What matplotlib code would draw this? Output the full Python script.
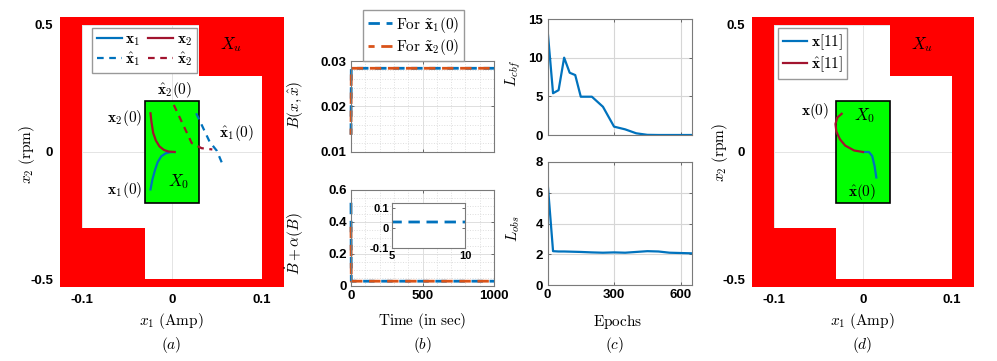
import numpy as np
import matplotlib.pyplot as plt
from matplotlib.path import Path
from matplotlib.patches import PathPatch, Rectangle
from matplotlib.ticker import MultipleLocator, AutoMinorLocator

plt.rcParams['mathtext.fontset'] = 'cm'
plt.rcParams['font.family'] = ['Liberation Sans', 'DejaVu Sans']

W, H = 997, 361
blue = '#0072BD'
dred = '#A2142F'
orange = '#D95319'

# safe region (white) and initial set X0
safe_x = [-0.1, 0.03, 0.03, 0.1, 0.1, -0.03, -0.03, -0.1]
safe_y = [0.5, 0.5, 0.3, 0.3, -0.5, -0.5, -0.3, -0.3]
x0_box = (-0.03, -0.2, 0.06, 0.4)

# (a) trajectories
a_x1 = [(-0.024, -0.147), (-0.022, -0.11), (-0.019, -0.071), (-0.016, -0.04),
        (-0.012, -0.017), (-0.007, -0.005), (-0.002, -0.001), (0.003, 0.0)]
a_x2 = [(-0.024, 0.152), (-0.023, 0.12), (-0.021, 0.075), (-0.018, 0.045),
        (-0.014, 0.022), (-0.009, 0.008), (-0.004, 0.002), (0.003, 0.0)]
a_xh1 = [(0.027, 0.152), (0.034, 0.1), (0.042, 0.04), (0.05, 0.005), (0.056, -0.045)]
a_xh2 = [(0.002, 0.185), (0.012, 0.11), (0.022, 0.035), (0.033, 0.015), (0.045, 0.01)]

# (b) barrier values
b_t = [0, 2, 1000]
b_B1 = [0.0138, 0.0284, 0.0284]
b_B2 = [0.0138, 0.0284, 0.0284]
b_dB1 = [0.52, 0.03, 0.03]
b_dB2 = [0.37, 0.03, 0.03]

# (c) training losses
c_ep = [0, 25, 50, 75, 100, 125, 150, 200, 250, 300, 350, 400, 450, 500, 550, 600, 650]
c_cbf = [13.7, 5.4, 5.8, 10.0, 8.05, 7.75, 4.95, 4.95, 3.65, 1.08, 0.73, 0.22, 0.02, 0, 0, 0, 0]
c_obs = [6.75, 2.2, 2.18, 2.18, 2.17, 2.16, 2.15, 2.12, 2.1, 2.12, 2.1, 2.15, 2.2, 2.18, 2.1, 2.08, 2.06]

# (d) trajectories
d_x = [(0.0, 0.0), (0.0067, 0.0), (0.0104, -0.016), (0.013, -0.055), (0.015, -0.1)]
d_xh = [(-0.024, 0.15), (-0.029, 0.135), (-0.031, 0.11), (-0.030, 0.08),
        (-0.026, 0.05), (-0.02, 0.025), (-0.01, 0.006), (0.0, 0.0)]

fig = plt.figure(figsize=(W / 100, H / 100), dpi=100)


def fx(p):
    return p / W


def fy(p):
    return 1 - p / H


def add_ax(l, r, t, b):
    return fig.add_axes([fx(l), fy(b), (r - l) / W, (b - t) / H])


def xy(pts):
    return [p[0] for p in pts], [p[1] for p in pts]


TFS = 9.5
tickfont = dict(fontsize=TFS, fontweight='bold')


def box_style(ax, fs=TFS):
    for s in ax.spines.values():
        s.set_color('#7a7a7a')
        s.set_linewidth(0.8)
    ax.tick_params(direction='in', length=2.5, width=0.6, color='#555555',
                   top=True, right=True, pad=3)
    for tl in ax.get_xticklabels() + ax.get_yticklabels():
        tl.set_fontsize(fs)
        tl.set_fontweight('bold')


def state_panel(ax):
    ax.set_xlim(-0.125, 0.125)
    ax.set_ylim(-0.53, 0.53)
    ax.set_axisbelow(True)
    ax.grid(True, color='#e4e4e4', lw=0.7)
    outer = [(-0.3, -1), (0.3, -1), (0.3, 1), (-0.3, 1), (-0.3, -1)]
    inner = list(zip(safe_x, safe_y)) + [(safe_x[0], safe_y[0])]
    codes = ([Path.MOVETO] + [Path.LINETO] * 3 + [Path.CLOSEPOLY] +
             [Path.MOVETO] + [Path.LINETO] * (len(inner) - 2) + [Path.CLOSEPOLY])
    ax.add_patch(PathPatch(Path(outer + inner, codes), facecolor='#ff0000',
                           edgecolor='none', zorder=1))
    ax.add_patch(Rectangle(x0_box[:2], x0_box[2], x0_box[3], facecolor='#00ff00',
                           edgecolor='black', lw=1.2, zorder=2))
    ax.set_xticks([-0.1, 0, 0.1])
    ax.set_xticklabels(['-0.1', '0', '0.1'], **tickfont)
    ax.set_yticks([-0.5, 0, 0.5])
    ax.set_yticklabels(['-0.5', '0', '0.5'], **tickfont)
    ax.tick_params(length=0, pad=5)
    for s in ax.spines.values():
        s.set_visible(False)
    ax.set_xlabel(r'$x_1\ \mathrm{(Amp)}$', fontsize=11)
    ax.set_ylabel(r'$x_2\ \mathrm{(rpm)}$', fontsize=11)
    ax.text(0.066, 0.42, r'$X_u$', fontsize=12, ha='center', va='center', zorder=4)


leg_kw = dict(fancybox=False, edgecolor='#999999', framealpha=1, borderpad=0.3,
              labelspacing=0.15, handlelength=1.6, handletextpad=0.25,
              columnspacing=0.5, fontsize=11, borderaxespad=0)

# ---------------- (a)
ax = add_ax(60, 284, 17, 287)
state_panel(ax)
l1, = ax.plot(*xy(a_x1), color=blue, lw=1.6, zorder=3, label=r'$\mathbf{x}_1$')
l2, = ax.plot(*xy(a_x2), color=dred, lw=1.6, zorder=3, label=r'$\mathbf{x}_2$')
l3, = ax.plot(*xy(a_xh1), color=blue, lw=1.6, ls=(0, (3, 2.5)), zorder=3,
              label=r'$\hat{\mathbf{x}}_1$')
l4, = ax.plot(*xy(a_xh2), color=dred, lw=1.6, ls=(0, (3, 2.5)), zorder=3,
              label=r'$\hat{\mathbf{x}}_2$')
ax.legend(handles=[l1, l3, l2, l4], ncol=2, loc='upper left',
          bbox_to_anchor=(0.145, 0.96), **leg_kw).set_zorder(5)
ax.text(0.003, 0.245, r'$\hat{\mathbf{x}}_2(0)$', fontsize=11, ha='center', va='center', zorder=4)
ax.text(-0.053, 0.135, r'$\mathbf{x_2}(0)$', fontsize=11, ha='center', va='center', zorder=4)
ax.text(0.072, 0.075, r'$\hat{\mathbf{x}}_1(0)$', fontsize=11, ha='center', va='center', zorder=4)
ax.text(-0.053, -0.15, r'$\mathbf{x_1}(0)$', fontsize=11, ha='center', va='center', zorder=4)
ax.text(0.007, -0.117, r'$X_0$', fontsize=12, ha='center', va='center', zorder=4)
ax.xaxis.set_label_coords(fx(171), fy(321), transform=fig.transFigure)
ax.xaxis.label.set_va('center')
ax.yaxis.set_label_coords(fx(27), fy(154), transform=fig.transFigure)
ax.yaxis.label.set_va('center')

# ---------------- (b)
dash_b = (0, (4.1, 2.4))
dash_b2 = (1.9, (4.1, 2.4))
ax = add_ax(351, 494, 61, 152)
ax.plot(b_t, b_B1, color=blue, lw=2.0, ls=dash_b, clip_on=False,
        label=r'$\mathrm{For}\ \tilde{\mathbf{x}}_1(0)$')
ax.plot(b_t, b_B2, color=orange, lw=2.0, ls=dash_b2, clip_on=False,
        label=r'$\mathrm{For}\ \tilde{\mathbf{x}}_2(0)$')
ax.set_xlim(0, 1000)
ax.set_ylim(0.01, 0.03)
ax.set_xticks([0, 500, 1000])
ax.set_xticklabels([])
ax.set_yticks([0.01, 0.02, 0.03])
ax.set_yticklabels(['0.01', '0.02', '0.03'])
ax.xaxis.set_minor_locator(AutoMinorLocator(5))
ax.yaxis.set_minor_locator(AutoMinorLocator(5))
ax.grid(True, which='major', color='#dedede', lw=0.7)
ax.grid(True, which='minor', color='#dedede', lw=0.7, ls=':')
ax.tick_params(which='minor', length=0)
box_style(ax)
ax.set_ylabel(r'$B(x,\hat{x})$', fontsize=11)
ax.yaxis.set_label_coords(fx(295), fy(105), transform=fig.transFigure)
ax.yaxis.label.set_va('center')
h, lb = ax.get_legend_handles_labels()
fig.legend(h, lb, loc='upper left', bbox_to_anchor=(fx(363), fy(10)),
           **leg_kw)

ax = add_ax(351, 494, 190, 286)
ax.plot(b_t, b_dB1, color=blue, lw=2.0, ls=dash_b, clip_on=False)
ax.plot(b_t, b_dB2, color=orange, lw=2.0, ls=dash_b, clip_on=False)
ax.set_xlim(0, 1000)
ax.set_ylim(0, 0.6)
ax.set_xticks([0, 500, 1000])
ax.set_yticks([0, 0.2, 0.4, 0.6])
ax.set_yticklabels(['0', '0.2', '0.4', '0.6'])
ax.xaxis.set_minor_locator(AutoMinorLocator(5))
ax.yaxis.set_minor_locator(AutoMinorLocator(4))
ax.grid(True, which='major', color='#dedede', lw=0.7)
ax.grid(True, which='minor', color='#dedede', lw=0.7, ls=':')
ax.tick_params(which='minor', length=0)
box_style(ax)
ax.set_xlabel(r'$\mathrm{Time\ (in\ sec)}$', fontsize=11)
ax.xaxis.set_label_coords(fx(422), fy(321), transform=fig.transFigure)
ax.xaxis.label.set_va('center')
ax.set_ylabel(r'$\dot{B}+\alpha(B)$', fontsize=11)
ax.yaxis.set_label_coords(fx(295), fy(244), transform=fig.transFigure)
ax.yaxis.label.set_va('center')

ins = add_ax(392, 465, 203, 248)
ins.plot(b_t, b_dB1, color=blue, lw=2.0, ls=dash_b)
ins.set_xlim(5, 10)
ins.set_ylim(-0.1, 0.125)
ins.set_xticks([5, 10])
ins.set_yticks([-0.1, 0, 0.1])
ins.set_yticklabels(['-0.1', '0', '0.1'])
box_style(ins, fs=8)
ins.tick_params(pad=2)

# ---------------- (c)
ax = add_ax(547.5, 691.7, 19, 135)
ax.plot(c_ep, c_cbf, color=blue, lw=1.6)
ax.set_xlim(0, 650)
ax.set_ylim(0, 15)
ax.set_xticks([0, 300, 600])
ax.set_xticklabels([])
ax.set_yticks([0, 5, 10, 15])
ax.grid(True, color='#d6d6d6', lw=0.8)
box_style(ax)
ax.set_ylabel(r'$L_{cbf}$', fontsize=11)
ax.yaxis.set_label_coords(fx(513), fy(73), transform=fig.transFigure)
ax.yaxis.label.set_va('center')

ax = add_ax(547.5, 691.7, 162, 285)
ax.plot(c_ep, c_obs, color=blue, lw=1.6)
ax.set_xlim(0, 650)
ax.set_ylim(0, 8)
ax.set_xticks([0, 300, 600])
ax.set_yticks([0, 2, 4, 6, 8])
ax.grid(True, color='#d6d6d6', lw=0.8)
box_style(ax)
ax.set_xlabel(r'$\mathrm{Epochs}$', fontsize=11)
ax.xaxis.set_label_coords(fx(618), fy(322), transform=fig.transFigure)
ax.xaxis.label.set_va('center')
ax.set_ylabel(r'$L_{obs}$', fontsize=11)
ax.yaxis.set_label_coords(fx(513), fy(229), transform=fig.transFigure)
ax.yaxis.label.set_va('center')

# ---------------- (d)
ax = add_ax(752, 974, 17, 287)
state_panel(ax)
m1, = ax.plot(*xy(d_x), color=blue, lw=1.6, zorder=3, label=r'$\mathbf{x}[11]$')
m2, = ax.plot(*xy(d_xh), color=dred, lw=1.6, zorder=3, label=r'$\hat{\mathbf{x}}[11]$')
ax.legend(handles=[m1, m2], loc='upper left', bbox_to_anchor=(0.117, 0.96),
          **leg_kw).set_zorder(5)
ax.text(-0.054, 0.16, r'$\mathbf{x}(0)$', fontsize=11, ha='center', va='center', zorder=4)
ax.text(0.002, 0.142, r'$X_0$', fontsize=12, ha='center', va='center', zorder=4)
ax.text(-0.001, -0.157, r'$\hat{\mathbf{x}}(0)$', fontsize=11, ha='center', va='center', zorder=4)
ax.xaxis.set_label_coords(fx(862), fy(321), transform=fig.transFigure)
ax.xaxis.label.set_va('center')
ax.yaxis.set_label_coords(fx(720), fy(152), transform=fig.transFigure)
ax.yaxis.label.set_va('center')

# captions
for xc, cap in [(171, '(a)'), (422, '(b)'), (615, '(c)'), (862, '(d)')]:
    fig.text(fx(xc), fy(345), '$' + cap + '$', fontsize=11, ha='center', va='center')

fig.savefig('out.png', dpi=100)
